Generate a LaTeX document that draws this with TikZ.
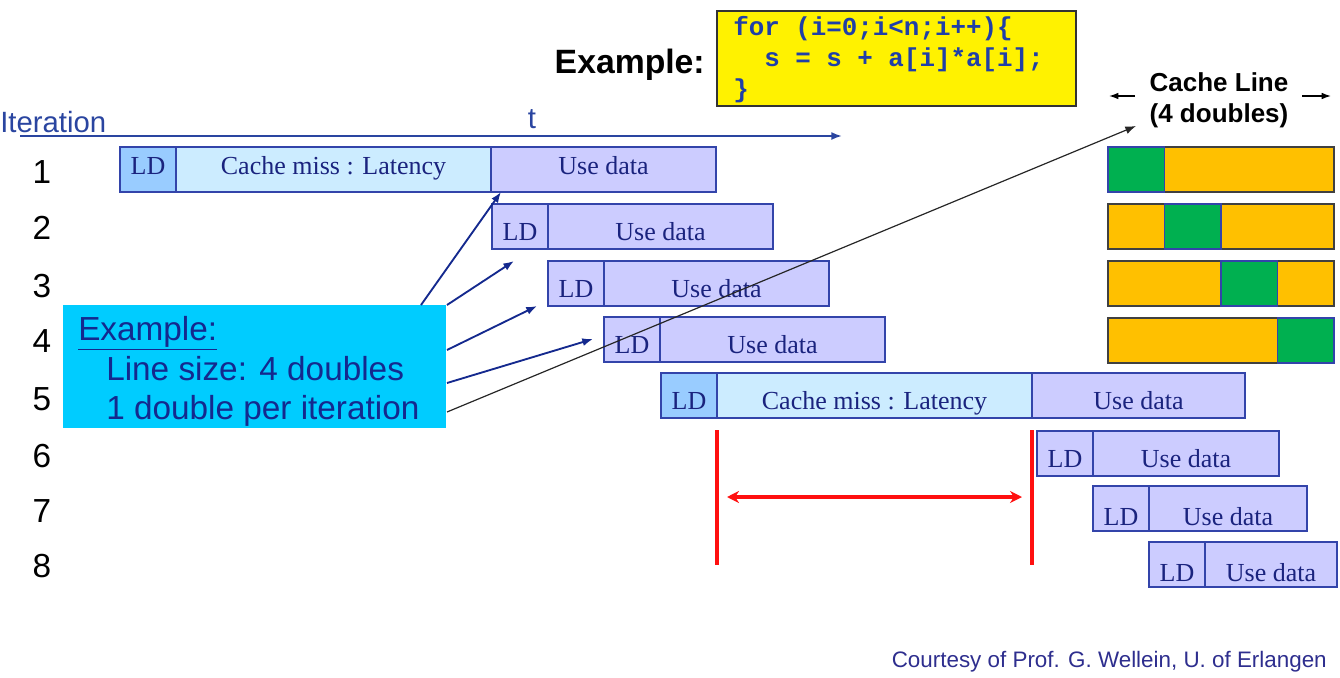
\documentclass[tikz,border=0pt]{standalone}
\usepackage{fontspec}
\setmainfont{Liberation Sans}
\newfontfamily\serifx{Liberation Serif}
\newfontfamily\monox{Liberation Mono}
\usetikzlibrary{arrows.meta}
\definecolor{ldblue}{HTML}{99CCFF}
\definecolor{missblue}{HTML}{CCECFF}
\definecolor{uselav}{HTML}{CCCCFF}
\definecolor{cellline}{HTML}{3344AA}
\definecolor{boxtext}{HTML}{1A237E}
\definecolor{axisblue}{HTML}{2A45A0}
\definecolor{navy}{HTML}{14298E}
\definecolor{exfill}{HTML}{00CCFF}
\definecolor{codeblue}{HTML}{1F3FA8}
\definecolor{cgreen}{HTML}{00B050}
\definecolor{corange}{HTML}{FFC000}
\definecolor{credits}{HTML}{2E2E8E}
\definecolor{redline}{HTML}{FF1010}
\tikzset{
  cell/.style={draw=cellline, line width=1pt, minimum height=33.75pt, inner sep=0pt, outer sep=0pt,
    anchor=north west, font=\serifx\fontsize{19.5}{20}\selectfont, text=boxtext},
  ldA/.style={cell, fill=ldblue, minimum width=42pt},
  ldB/.style={cell, fill=uselav, minimum width=42pt},
  miss/.style={cell, fill=missblue, minimum width=236.25pt},
  use/.style={cell, fill=uselav},
  tup/.style={text height=9.6pt, text depth=2pt},
  tdown/.style={text height=22.3pt, text depth=2pt},
  tdown2/.style={text height=27.6pt, text depth=2pt},
  rownum/.style={font=\fontsize{25}{27}\selectfont, text=black, inner sep=0pt},
  clbar/.style={draw=black!75, line width=1pt, fill=corange, minimum width=169.5pt, minimum height=33.75pt,
    inner sep=0pt, outer sep=0pt, anchor=north west},
  clgreen/.style={draw=cellline, line width=1pt, fill=cgreen, minimum width=42.375pt, minimum height=33.75pt,
    inner sep=0pt, outer sep=0pt, anchor=north west},
  barrow/.style={draw=navy, line width=1.4pt, -{Latex[length=8pt,width=6pt]}},
  blackarrow/.style={draw=black!85, line width=0.9pt, -{Latex[length=8pt,width=6pt]}},
  redl/.style={draw=redline, line width=2.4pt},
  extext/.style={font=\fontsize{25}{27}\selectfont, text=navy, inner sep=0pt, anchor=west},
}
\begin{document}
\begin{tikzpicture}[x=0.75pt,y=-0.75pt]
\useasboundingbox (0,0) rectangle (1340,678);

% header
\node[font=\bfseries\fontsize{25.3}{27}\selectfont, inner sep=0pt, anchor=east] (exlabel) at (705,65) {Example:};
\node[draw=black!80, line width=1.2pt, fill=yellow, minimum width=269.25pt, minimum height=71.25pt, inner sep=0pt] (codebox) at (896.5,58.5) {};
\node[font=\monox\bfseries\fontsize{19.4}{23.25}\selectfont, text=codeblue, align=left, inner sep=0pt, anchor=north west] (code) at (733,16)
  {for (i=0;i<n;i++)\{\\~~s = s + a[i]*a[i];\\\}};

\node[font=\fontsize{22}{24}\selectfont, text=axisblue, inner sep=0pt, anchor=west] (iter) at (0,122) {Iteration};
\node[font=\fontsize{22}{24}\selectfont, text=axisblue, inner sep=0pt] (tlabel) at (532,119) {t};
\coordinate (axs) at (20,136);
\coordinate (axe) at (842,136);
\draw[draw=axisblue, line width=1.4pt, -{Latex[length=8pt,width=6pt]}] (axs) -- (axe);

% row numbers
\foreach \n/\yy in {1/172,2/228,3/286,4/341,5/399,6/456,7/511,8/566}
  \node[rownum] (num\n) at (42,\yy) {\n};

% row 1
\node[ldA, tup] (r1ld) at (120,147) {LD};
\node[miss, tup] (r1miss) at (r1ld.north east) {Cache miss : Latency};
\node[use, tup, minimum width=168.75pt] (r1use) at (r1miss.north east) {Use data};
% rows 2-4
\node[ldB, tdown] (r2ld) at (492,204) {LD};
\node[use, tdown, minimum width=168.75pt] (r2use) at (r2ld.north east) {Use data};
\node[ldB, tdown] (r3ld) at (548,261) {LD};
\node[use, tdown, minimum width=168.75pt] (r3use) at (r3ld.north east) {Use data};
\node[ldB, tdown] (r4ld) at (604,317) {LD};
\node[use, tdown, minimum width=168.75pt] (r4use) at (r4ld.north east) {Use data};
% row 5
\node[ldA, tdown] (r5ld) at (661,373) {LD};
\node[miss, tdown] (r5miss) at (r5ld.north east) {Cache miss : Latency};
\node[use, tdown, minimum width=159.75pt] (r5use) at (r5miss.north east) {Use data};
% rows 6-8
\node[ldB, tdown] (r6ld) at (1037,431) {LD};
\node[use, tdown, minimum width=139.5pt] (r6use) at (r6ld.north east) {Use data};
\node[ldB, tdown2] (r7ld) at (1093,486) {LD};
\node[use, tdown2, minimum width=118.5pt] (r7use) at (r7ld.north east) {Use data};
\node[ldB, tdown2] (r8ld) at (1149,542) {LD};
\node[use, tdown2, minimum width=99pt] (r8use) at (r8ld.north east) {Use data};

% cache line bars
\foreach \r/\yy in {1/147,2/204,3/261,4/318}{
  \node[clbar] (clbar\r) at (1108,\yy) {};
  \node[clgreen] (clg\r) at ({1108+(\r-1)*56.5},\yy) {};
}
\node[font=\bfseries\fontsize{19.5}{23.25}\selectfont, align=center, inner sep=0pt] (cltext) at (1219,100) {Cache Line\\(4 doubles)};
\coordinate (cll1) at (1135,96);
\coordinate (cll2) at (1109,96);
\coordinate (clr1) at (1302,96);
\coordinate (clr2) at (1331,96);
\draw[draw=black, line width=1pt, -{Latex[length=7pt,width=5pt]}] (cll1) -- (cll2);
\draw[draw=black, line width=1pt, -{Latex[length=7pt,width=5pt]}] (clr1) -- (clr2);

% example box
\node[fill=exfill, minimum width=287.25pt, minimum height=92.25pt, inner sep=0pt, outer sep=0pt, anchor=north west] (ex) at (63,305) {};
\node[extext] (ex1) at (78,333) {\underline{Example:}};
\node[extext] (ex2) at (106,369) {Line size: 4 doubles};
\node[extext] (ex3) at (106,411) {1 double per iteration};

% arrows from example box
\coordinate (a1s) at (421,305);
\coordinate (a1e) at (501,192);
\coordinate (a2s) at (447,305);
\coordinate (a2e) at (514,261);
\coordinate (a3s) at (447,350);
\coordinate (a3e) at (537,306);
\coordinate (a4s) at (447,383);
\coordinate (a4e) at (593,339);
\coordinate (a5s) at (447,412);
\coordinate (a5e) at (1136,126);
\draw[barrow] (a1s) -- (a1e);
\draw[barrow] (a2s) -- (a2e);
\draw[barrow] (a3s) -- (a3e);
\draw[barrow] (a4s) -- (a4e);
\draw[blackarrow] (a5s) -- (a5e);

% red latency markers
\coordinate (rl1t) at (717,430);
\coordinate (rl1b) at (717,565);
\coordinate (rl2t) at (1032,430);
\coordinate (rl2b) at (1032,565);
\coordinate (ra1) at (727,497);
\coordinate (ra2) at (1022,497);
\draw[redl] (rl1t) -- (rl1b);
\draw[redl] (rl2t) -- (rl2b);
\draw[redl, {Stealth[length=9pt,width=9pt]}-{Stealth[length=9pt,width=9pt]}] (ra1) -- (ra2);

% credits
\node[font=\fontsize{16.8}{18}\selectfont, text=credits, inner sep=0pt, anchor=east] (credit) at (1327,662) {Courtesy of Prof. G. Wellein, U. of Erlangen};
\end{tikzpicture}
\end{document}
